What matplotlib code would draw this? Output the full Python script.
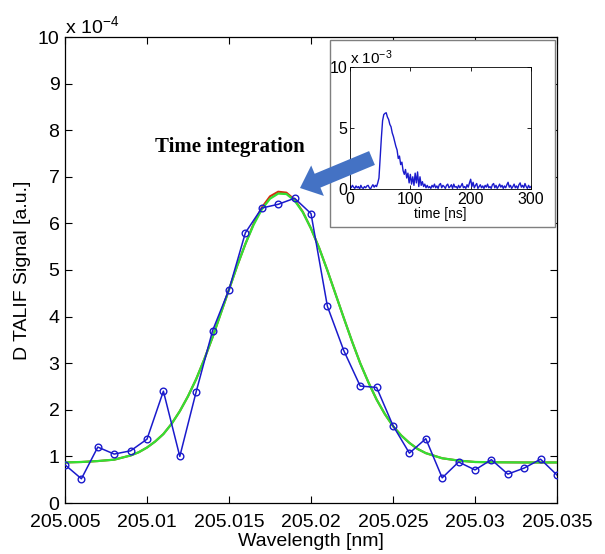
import numpy as np
import matplotlib
matplotlib.use("Agg")
import matplotlib.pyplot as plt
from matplotlib.patches import Rectangle, FancyArrow

plt.rcParams['font.family'] = ['Liberation Sans', 'DejaVu Sans']
plt.rcParams['mathtext.fontset'] = 'custom'
plt.rcParams['mathtext.rm'] = 'Liberation Sans'
plt.rcParams['mathtext.it'] = 'Liberation Sans'

# measured spectrum (units of 1e-4)
wavelength = [205.005, 205.006, 205.007, 205.008, 205.009, 205.010, 205.011, 205.012,
              205.013, 205.014, 205.015, 205.016, 205.017, 205.018, 205.019, 205.020,
              205.021, 205.022, 205.023, 205.024, 205.025, 205.026, 205.027, 205.028,
              205.029, 205.030, 205.031, 205.032, 205.033, 205.034, 205.035]
signal = [0.82, 0.52, 1.2, 1.05, 1.12, 1.37, 2.4, 1.0, 2.39, 3.7, 4.58, 5.8, 6.33,
          6.41, 6.54, 6.21, 4.22, 3.27, 2.51, 2.48, 1.66, 1.07, 1.38, 0.54, 0.88,
          0.71, 0.93, 0.62, 0.75, 0.94, 0.6]

# fitted curves
fit_x = [205.005, 205.006, 205.007, 205.008, 205.009, 205.0095, 205.010, 205.0105,
         205.011, 205.0115, 205.012, 205.0125, 205.013, 205.0135, 205.014, 205.0145,
         205.015, 205.0155, 205.016, 205.0165, 205.017, 205.0175, 205.018, 205.0185,
         205.019, 205.0195, 205.020, 205.0205, 205.021, 205.0215, 205.022, 205.0225,
         205.023, 205.0235, 205.024, 205.0245, 205.025, 205.0255, 205.026, 205.0265,
         205.027, 205.028, 205.029, 205.030, 205.031, 205.032, 205.033, 205.034, 205.035]
fit_green = [0.87, 0.88, 0.9, 0.93, 1.02, 1.09, 1.19, 1.32, 1.48, 1.7, 1.97, 2.29,
             2.66, 3.09, 3.56, 4.07, 4.58, 5.09, 5.56, 5.97, 6.3, 6.53, 6.64, 6.63,
             6.49, 6.24, 5.89, 5.47, 4.99, 4.48, 3.97, 3.47, 3.0, 2.59, 2.22, 1.91,
             1.65, 1.45, 1.29, 1.16, 1.07, 0.96, 0.91, 0.88, 0.875, 0.872, 0.87, 0.87, 0.87]
fit_red = [0.87, 0.88, 0.9, 0.93, 1.02, 1.09, 1.19, 1.32, 1.48, 1.7, 1.97, 2.29,
           2.66, 3.09, 3.56, 4.07, 4.58, 5.09, 5.56, 5.99, 6.34, 6.58, 6.68, 6.66,
           6.51, 6.25, 5.89, 5.47, 4.99, 4.48, 3.97, 3.47, 3.0, 2.59, 2.22, 1.91,
           1.65, 1.45, 1.29, 1.16, 1.07, 0.96, 0.91, 0.88, 0.875, 0.872, 0.87, 0.87, 0.87]

xticks = [205.005, 205.01, 205.015, 205.02, 205.025, 205.03, 205.035]
xtick_labels = ['205.005', '205.01', '205.015', '205.02', '205.025', '205.03', '205.035']

# time trace for the inset (units of 1e-3), one sample every 2 ns
trace_step = 2
trace = [0.2, 0.1, 0.3, 0.15, 0.05, 0.25, 0.1, 0.2, 0.0, 0.3, 0.1, 0.05, 0.2, 0.1,
         0.25, 0.3, 0.1, 0.0, 0.2, 0.35, 0.15, 0.3,
         0.2, 0.5, 0.9, 2.6, 4.2, 5.6, 6.1, 6.2, 6.25, 5.9, 5.7, 5.3, 5.1, 4.6, 4.3,
         3.9, 3.5, 3.2, 2.5, 2.7, 2.0, 2.2, 1.5, 1.2, 1.6, 0.9, 1.3, 0.5, 1.2, 0.4,
         1.0, 0.3, 1.3, 0.5, 1.4, 0.2, 1.0, 0.3, 0.6, 0.2, 0.4, 0.1,
         0.3, 0.1, 0.2, 0.05, 0.3, 0.15, 0.4, 0.1, 0.25, 0.05, 0.35, 0.45, 0.1, 0.3,
         0.2, 0.05, 0.3, 0.4, 0.1, 0.2, 0.35, 0.05, 0.4, 0.15, 0.2, 0.05, 0.3, 0.1,
         0.25, 0.45, 0.1, 0.2, 0.05, 0.35, 0.15, 0.5, 0.8, 0.2, 0.55, 0.1, 0.3, 0.45,
         0.05, 0.2, 0.35, 0.1, 0.25, 0.05, 0.3, 0.15, 0.4, 0.1, 0.2, 0.05, 0.35, 0.45,
         0.1, 0.3, 0.05, 0.2, 0.4, 0.15, 0.3, 0.05, 0.25, 0.1, 0.35, 0.55, 0.15, 0.3,
         0.05, 0.2, 0.4, 0.1, 0.25, 0.05, 0.35, 0.5, 0.15, 0.3, 0.1, 0.45, 0.2, 0.05,
         0.3, 0.1, 0.2]
trace_t = np.arange(len(trace)) * trace_step

W, H = 605, 554
fig = plt.figure(figsize=(W / 100, H / 100), dpi=100)
fig.patch.set_facecolor('white')

# main axes
ax = fig.add_axes([65 / W, 51 / H, 492 / W, 466 / H], zorder=0)
ax.plot(fit_x, fit_red, color='#d42a10', lw=1.5, zorder=2)
ax.plot(fit_x, fit_green, color='#33e033', lw=1.6, zorder=3)
ax.plot(wavelength, signal, color='#1a1acc', lw=1.1, marker='o', ms=4.8,
        mfc='none', mec='#1a1acc', mew=1.0, zorder=4)
ax.set_xlim(205.005, 205.035)
ax.set_ylim(0, 10)
ax.set_xticks(xticks)
ax.set_xticklabels(xtick_labels)
ax.set_yticks(range(0, 11))
ax.tick_params(direction='in', length=5, width=0.8, top=True, right=True,
               labelsize=14, pad=4)
ax.tick_params(axis='x', pad=8)
for s in ax.spines.values():
    s.set_linewidth(0.9)
ax.set_xlabel('Wavelength [nm]', fontsize=14, labelpad=1)
ax.set_ylabel('D TALIF Signal [a.u.]', fontsize=14, labelpad=5)
ax.text(0.0, 1.0, r'x 10$^{-4}$', transform=ax.transAxes, fontsize=14,
        ha='left', va='bottom')

# white frame behind the inset
fig.add_artist(Rectangle((330 / W, (H - 227) / H), 225 / W, 187 / H,
                         transform=fig.transFigure, facecolor='white',
                         edgecolor='#7f7f7f', lw=1.0, zorder=1))

# inset
axi = fig.add_axes([350 / W, (H - 189) / H, 181 / W, 122 / H], zorder=2)
axi.plot(trace_t, trace, color='#1a1acc', lw=1.0)
axi.set_xlim(0, 300)
axi.set_ylim(0, 10)
axi.set_xticks([0, 100, 200, 300])
axi.set_yticks([0, 5, 10])
axi.tick_params(direction='in', length=3, width=0.6, top=True, right=True,
                labelsize=11.5, pad=2)
for s in axi.spines.values():
    s.set_linewidth(0.6)
axi.set_xlabel('time [ns]', fontsize=10, labelpad=0)
axi.text(0.0, 1.0, r'x 10$^{-3}$', transform=axi.transAxes, fontsize=11,
         ha='left', va='bottom')

# overlay: annotation text and arrow
ov = fig.add_axes([0, 0, 1, 1], zorder=3)
ov.set_xlim(0, W)
ov.set_ylim(H, 0)
ov.axis('off')
ov.patch.set_alpha(0)
ov.text(155, 147, 'Time integration', family='Liberation Serif', weight='bold',
        fontsize=15, ha='left', va='center')
ov.add_patch(FancyArrow(372, 158, -72, 30, width=15, head_width=33, head_length=19,
                        length_includes_head=True, color='#4472c4', lw=0))

fig.savefig('out.png', dpi=100)
